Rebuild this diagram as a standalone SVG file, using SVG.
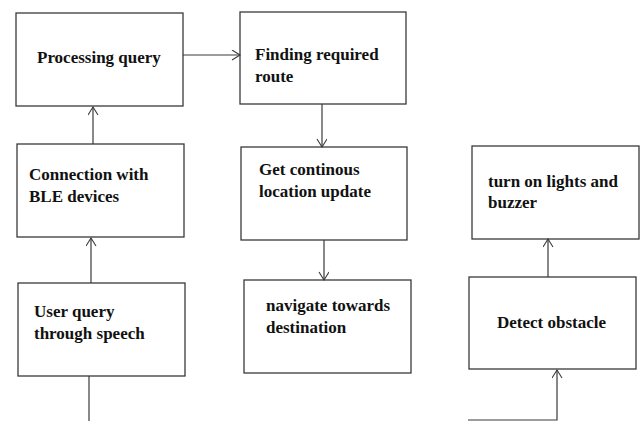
<svg xmlns="http://www.w3.org/2000/svg" width="641" height="421" viewBox="0 0 641 421">
<style>
.box{fill:#fff;stroke:#3a3a3a;stroke-width:1.3}
.t{font-family:"Liberation Serif","Times New Roman",serif;font-weight:bold;font-size:17px;fill:#111}
.c{fill:none;stroke:#3a3a3a;stroke-width:1.2}
</style>
<defs>
<marker id="ah" markerWidth="12" markerHeight="12" refX="9" refY="5" orient="auto" markerUnits="userSpaceOnUse">
<path d="M1,0 L9,5 L1,10" fill="none" stroke="#3a3a3a" stroke-width="1.1"/>
</marker>
</defs>
<rect width="641" height="421" fill="#fff"/>
<g id="n-processing"><rect class="box" x="16" y="13" width="167" height="93"/><text class="t" x="37" y="63">Processing query</text></g>
<g id="n-finding"><rect class="box" x="240" y="12" width="166" height="92"/><text class="t" x="255" y="60">Finding required</text><text class="t" x="255" y="82">route</text></g>
<g id="n-connection"><rect class="box" x="17" y="144" width="167" height="93"/><text class="t" x="29" y="180">Connection with</text><text class="t" x="29" y="202">BLE devices</text></g>
<g id="n-get"><rect class="box" x="241" y="147" width="166" height="93"/><text class="t" x="259" y="175">Get continous</text><text class="t" x="259" y="197">location update</text></g>
<g id="n-user"><rect class="box" x="18" y="283" width="167" height="93"/><text class="t" x="34" y="317">User query</text><text class="t" x="34" y="339">through speech</text></g>
<g id="n-navigate"><rect class="box" x="244" y="280" width="167" height="93"/><text class="t" x="266" y="311">navigate towards</text><text class="t" x="266" y="333">destination</text></g>
<g id="n-turn"><rect class="box" x="472" y="146" width="167" height="93"/><text class="t" x="488" y="187">turn on lights and</text><text class="t" x="488" y="208">buzzer</text></g>
<g id="n-detect"><rect class="box" x="469" y="277" width="167" height="92"/><text class="t" x="497" y="328">Detect obstacle</text></g>
<g id="connectors">
<line class="c" x1="183" y1="55" x2="240" y2="55" marker-end="url(#ah)"/>
<line class="c" x1="93" y1="144" x2="93" y2="107" marker-end="url(#ah)"/>
<line class="c" x1="91" y1="283" x2="91" y2="238" marker-end="url(#ah)"/>
<line class="c" x1="89" y1="376" x2="89" y2="421"/>
<line class="c" x1="322" y1="104" x2="322" y2="147" marker-end="url(#ah)"/>
<line class="c" x1="324" y1="240" x2="324" y2="280" marker-end="url(#ah)"/>
<line class="c" x1="548" y1="277" x2="548" y2="239" marker-end="url(#ah)"/>
<polyline class="c" points="468,420 557,420 557,370" marker-end="url(#ah)"/>
</g>
</svg>
